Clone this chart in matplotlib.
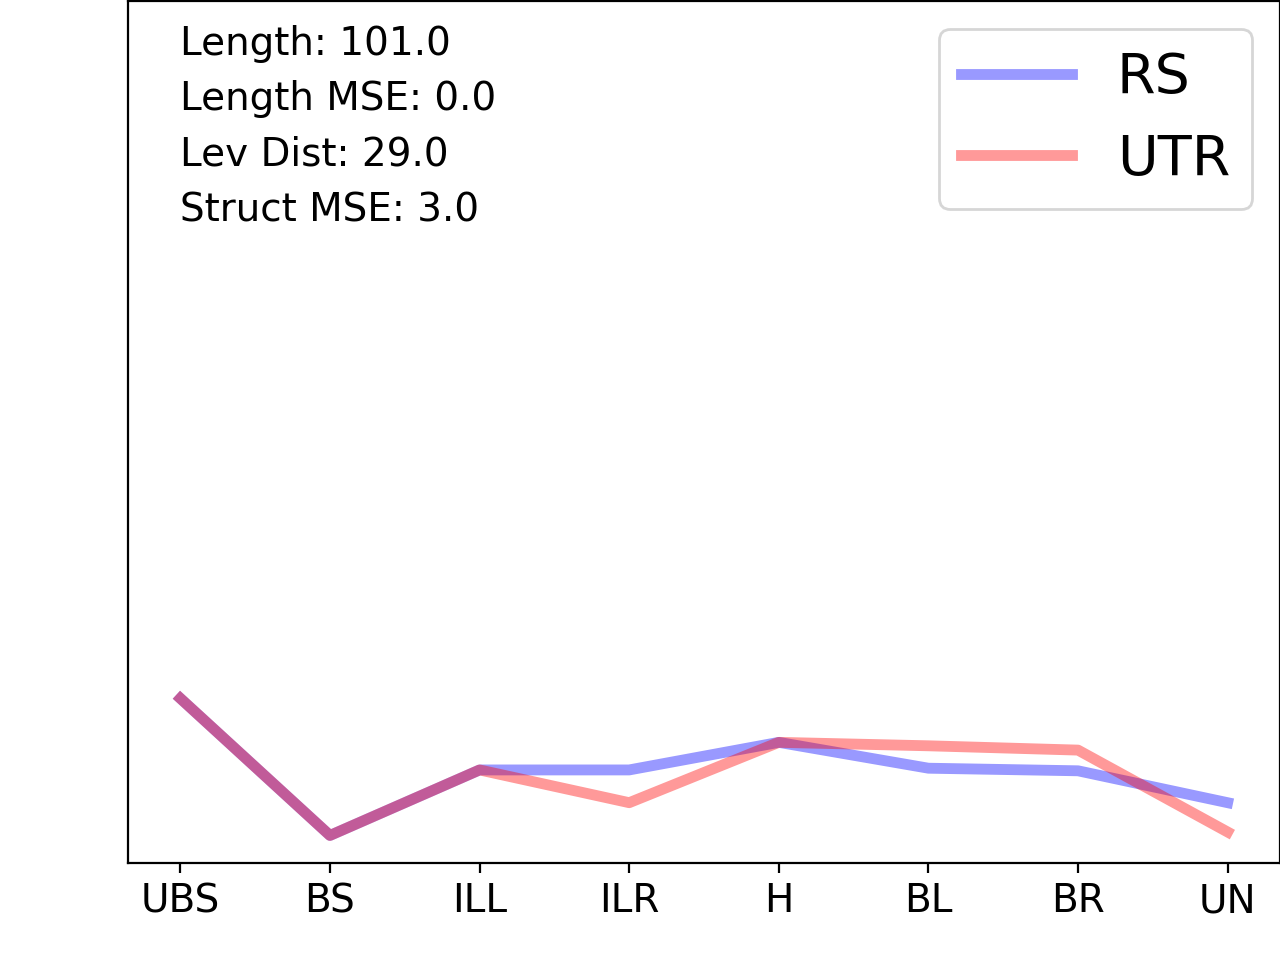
import numpy as np
import matplotlib
matplotlib.use('Agg')
import matplotlib.pyplot as plt

# categories along the x axis
labels = ['UBS', 'BS', 'ILL', 'ILR', 'H', 'BL', 'BR', 'UN']

# series values (arbitrary units)
rs = [0.191, 0.032, 0.108, 0.108, 0.140, 0.110, 0.107, 0.070]
utr = [0.191, 0.032, 0.108, 0.070, 0.140, 0.136, 0.131, 0.036]

# summary stats shown in the corner
stats = ['Length: 101.0', 'Length MSE: 0.0', 'Lev Dist: 29.0', 'Struct MSE: 3.0']

fig = plt.figure(figsize=(6.4, 4.8), dpi=200)
ax = fig.add_axes([0.1, 0.101, 0.9, 0.898])

x = np.arange(len(labels))
ax.plot(x, rs, color='blue', alpha=0.4, linewidth=3.9, label='RS')
ax.plot(x, utr, color='red', alpha=0.4, linewidth=3.9, label='UTR')

ax.set_ylim(0, 1)
ax.set_xticks(x)
ax.set_xticklabels(labels, fontsize=14)
ax.set_yticks([])

ax.text(0.045, 0.972, '\n'.join(stats), transform=ax.transAxes,
        fontsize=14, va='top', ha='left', linespacing=1.58)

ax.legend(loc='upper right', fontsize=20, handlelength=2.0)

fig.savefig('out.png', dpi=200)
